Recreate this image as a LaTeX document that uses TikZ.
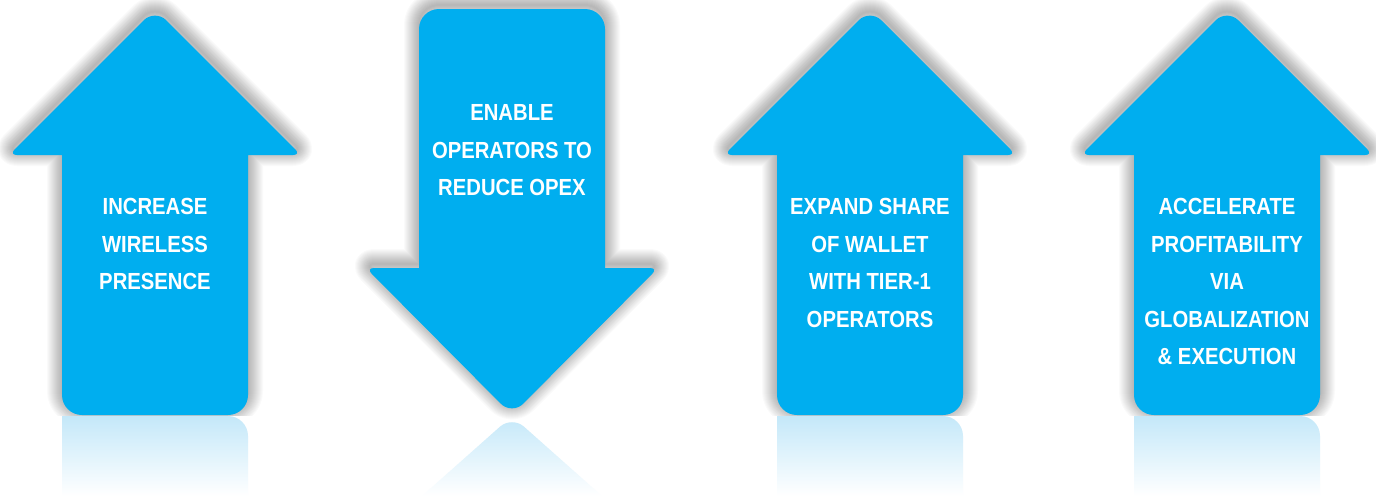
\documentclass[tikz,border=0pt]{standalone}
\usepackage{fontspec}
\setmainfont{Liberation Sans}[FakeStretch=0.87]
\definecolor{arrowblue}{HTML}{00AEEF}
\definecolor{reflblue}{HTML}{C4E8F9}
\newcommand\uparrowpath[1]{(#1,415) [rounded corners=20] -- ({#1-93},415) [sharp corners] -- ({#1-93},155) [rounded corners=8] -- ({#1-146},155) [rounded corners=16] -- (#1,9) [rounded corners=8] -- ({#1+146},155) [sharp corners] -- ({#1+93},155) [rounded corners=20] -- ({#1+93},415) [sharp corners] -- cycle}
\newcommand\downarrowpath[1]{(#1,9) [rounded corners=20] -- ({#1+93},9) [sharp corners] -- ({#1+93},268) [rounded corners=8] -- ({#1+146},268) [rounded corners=16] -- (#1,415) [rounded corners=8] -- ({#1-146},268) [sharp corners] -- ({#1-93},268) [rounded corners=20] -- ({#1-93},9) [sharp corners] -- cycle}
\begin{document}
\begin{tikzpicture}[x=1pt,y=-1pt,
  arrowfill/.style={fill=arrowblue, draw=none},
  shadowring/.style={draw=black, opacity=0.02, line join=round, fill=none, yshift=4pt},
  reflshape/.style={top color=reflblue, bottom color=white, draw=none},
  lbl/.style={text=white, font=\fontsize{23.3}{37.5}\selectfont\bfseries, align=center, inner sep=0pt, anchor=north}]
\fill[white] (0,0) rectangle (1376,496);
\useasboundingbox (0,0) rectangle (1376,496);
% soft shadows
\foreach \w in {2,4,...,30}{
  \foreach \cx in {155,870,1227}{
    \draw[shadowring, line width=\w pt] \uparrowpath{\cx};
  }
  \draw[shadowring, line width=\w pt] \downarrowpath{512};
}
% reflections
\foreach \cx in {155,870,1227}{
  \fill[white] ({\cx-100},416) rectangle ({\cx+100},496);
  \shade[reflshape] ({\cx-93},496) -- ({\cx-93},416) [rounded corners=20] -- ({\cx+93},416) [sharp corners] -- ({\cx+93},496) -- cycle;
}
\shade[reflshape] (422,496) [rounded corners=16] -- (512,416) [sharp corners] -- (602,496) -- cycle;
% arrows
\foreach \cx in {155,870,1227}{
  \path[arrowfill] \uparrowpath{\cx};
}
\path[arrowfill] \downarrowpath{512};
% labels
\node[lbl] (t1) at (155,198.5) {INCREASE\\WIRELESS\\PRESENCE};
\node[lbl] (t2) at (512,104.5) {ENABLE\\OPERATORS TO\\REDUCE OPEX};
\node[lbl] (t3) at (870,198.5) {EXPAND SHARE\\OF WALLET\\WITH TIER-1\\OPERATORS};
\node[lbl] (t4) at (1227,198.5) {ACCELERATE\\PROFITABILITY\\VIA\\GLOBALIZATION\\\& EXECUTION};
\end{tikzpicture}
\end{document}
